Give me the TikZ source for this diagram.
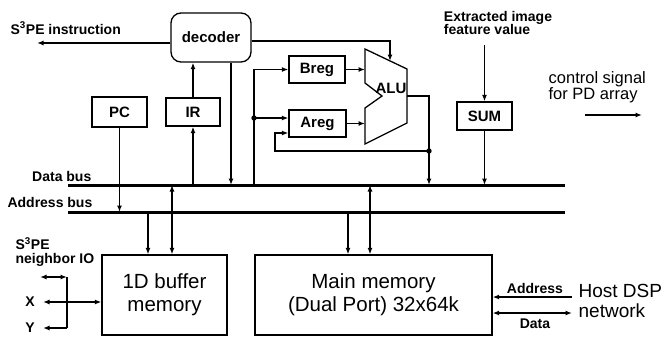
\documentclass[tikz,border=0pt]{standalone}
\usepackage{fontspec}
\setmainfont{Liberation Sans}
\usetikzlibrary{arrows.meta}

\begin{document}
\begin{tikzpicture}[x=1pt,y=-1pt,line width=1.3pt,
  >={Latex[length=6.5pt,width=5pt]},
  blk/.style={draw,inner sep=0pt,font=\fontsize{15}{17}\selectfont\bfseries},
  mem/.style={draw,inner sep=0pt,align=center,font=\fontsize{20.5}{23}\selectfont},
  txt/.style={inner sep=0pt,font=\fontsize{14}{13.5}\selectfont\bfseries},
  bus/.style={line width=3pt}]
  \useasboundingbox (0,0) rectangle (664,338);
  % blocks
  \node[blk,rounded corners=10pt,minimum width=80pt,minimum height=49pt] (dec) at (211,37.5) {decoder};
  \node[blk,minimum width=55pt,minimum height=30pt] (pc) at (119.5,112) {PC};
  \node[blk,minimum width=54pt,minimum height=28pt] (ir) at (193,112) {IR};
  \node[blk,minimum width=56pt,minimum height=27pt] (breg) at (317,69.5) {Breg};
  \node[blk,minimum width=57pt,minimum height=27pt] (areg) at (317.5,123.5) {Areg};
  \node[blk,minimum width=55pt,minimum height=28pt] (sum) at (484.5,116) {SUM};
  \node[mem,minimum width=125pt,minimum height=80pt] (buf) at (164.5,295) {1D buffer\\memory};
  \node[mem,minimum width=237pt,minimum height=80pt] (mm) at (373.5,295) {Main memory\\(Dual Port) 32x64k};
  % ALU
  \draw (365,49) -- (407,69) -- (407,123) -- (365,144) -- (365,108) -- (382,96) -- (365,83) -- cycle;
  \node[blk,draw=none] (alu) at (391,88) {ALU};
  \coordinate (aluin) at (390,61);
  \coordinate (aluout) at (407,96);
  % buses
  \coordinate (db0) at (68,185);
  \coordinate (db1) at (565,185);
  \coordinate (ab0) at (68,212);
  \coordinate (ab1) at (565,212);
  \draw[bus] (db0) -- (db1);
  \draw[bus] (ab0) -- (ab1);
  \node[txt,anchor=base east] (dbl) at (92,181) {Data bus};
  \node[txt,anchor=base east] (abl) at (93,207) {Address bus};
  % decoder, PC, IR
  \node[txt,anchor=base west] (instr) at (10,34) {S\textsuperscript{3}PE instruction};
  \coordinate (instrend) at (37,43);
  \draw[->] (dec.west |- instrend) -- (instrend);
  \draw[->] (dec.east |- 0,41) -- (aluin |- 0,41) -- (aluin);
  \draw[->] (pc.south) -- (pc.south |- ab0);
  \draw[->] (ir.south |- db0) -- (ir.south);
  \draw[->] (ir.north) -- (ir.north |- dec.south);
  \draw[->] (231,0 |- dec.south) -- (231,0 |- db0);
  % registers
  \coordinate (dotA) at (254,118);
  \coordinate (dotB) at (429,151);
  \draw[->] (dotA |- db0) -- (dotA |- breg.west) -- (breg.west);
  \draw[->] (dotA) -- (dotA -| areg.west);
  \draw[->] (breg.east) -- (365,0 |- breg.east);
  \draw[->] (areg.east) -- (365,0 |- areg.east);
  \draw[->] (aluout) -- (dotB |- aluout) -- (dotB |- db0);
  \draw[->] (dotB) -- (275,0 |- dotB) -- (275,133) -- (areg.west |- 0,133);
  \fill (dotA) circle (2.7pt);
  \fill (dotB) circle (2.7pt);
  % SUM
  \node[txt,align=left] (ext) at (498,23) {Extracted image\\feature value};
  \draw[->] (sum.north |- 0,45) -- (sum.north);
  \draw[->] (sum.south) -- (sum.south |- db0);
  \node[txt,align=left,anchor=west,font=\fontsize{16.5}{14.5}\selectfont] (ctl) at (548,87) {control signal\\for PD array};
  \coordinate (ctlend) at (642,115);
  \draw[->] (585,0 |- ctlend) -- (ctlend);
  % memories
  \draw[->] (148,0 |- ab0) -- (148,0 |- buf.north);
  \draw[<->] (172,0 |- db0) -- (172,0 |- buf.north);
  \draw[->] (348,0 |- ab0) -- (348,0 |- mm.north);
  \draw[<->] (370,0 |- db0) -- (370,0 |- mm.north);
  % host side
  \node[txt,align=left,anchor=west,font=\fontsize{19}{20}\selectfont] (host) at (578,301) {Host DSP\\network};
  \coordinate (hostA) at (572,297);
  \coordinate (hostD) at (572,313);
  \draw[->] (hostA) -- (mm.east |- hostA);
  \draw[<->] (mm.east |- hostD) -- (hostD);
  \node[txt] (addr) at (535,288) {Address};
  \node[txt] (data) at (535,324) {Data};
  % neighbor IO
  \node[txt,align=left,anchor=north west] (nio) at (15,237) {S\textsuperscript{3}PE\\neighbor IO};
  \coordinate (nt) at (67,277);
  \coordinate (nb) at (67,328);
  \draw[<->] (40,0 |- nt) -- (nt);
  \draw (nt) -- (nb);
  \draw[->] (nb) -- (43,0 |- nb);
  \draw[<->] (43,302) -- (buf.west |- 0,302);
  \node[txt] (xl) at (30,302) {X};
  \node[txt] (yl) at (30,328) {Y};
\end{tikzpicture}
\end{document}
